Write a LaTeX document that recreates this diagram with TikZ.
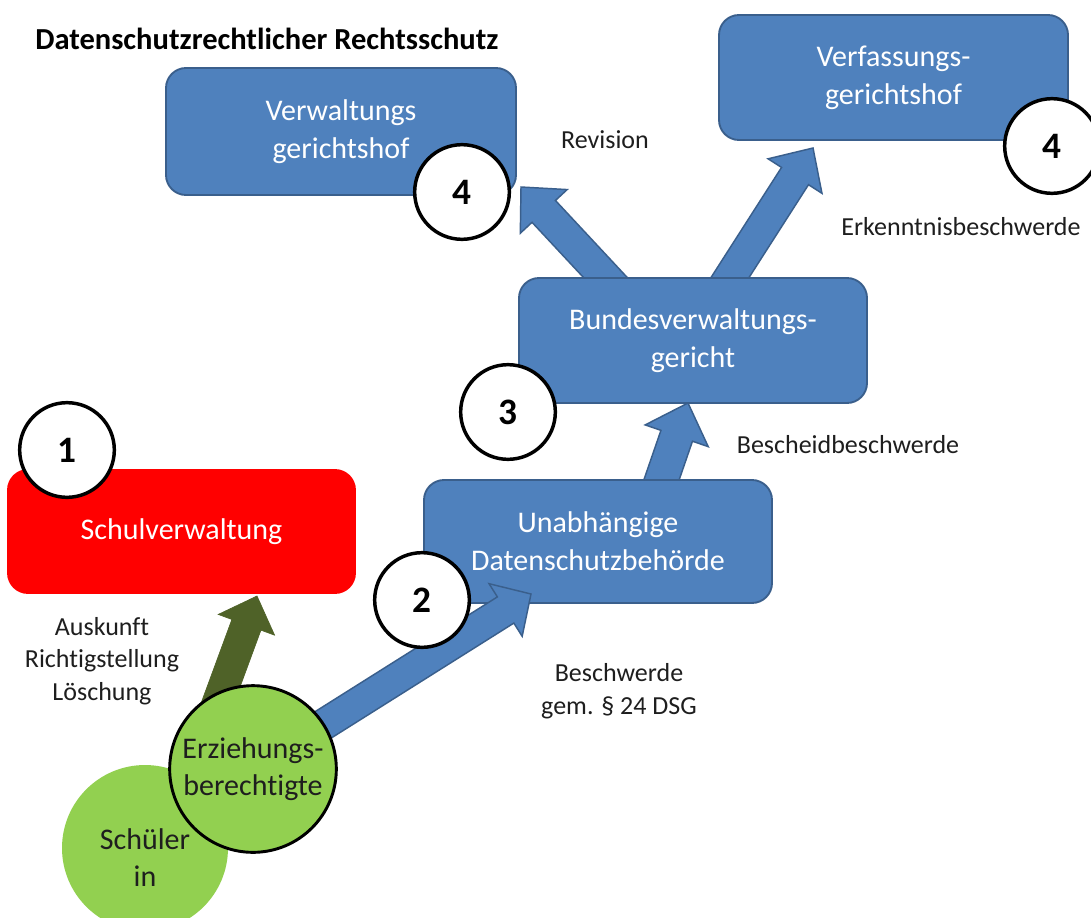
\documentclass[tikz,border=0pt]{standalone}
\usepackage{fontspec}
\setmainfont{Carlito}[Ligatures=NoCommon]
\usetikzlibrary{calc}
\definecolor{boxblue}{HTML}{4F81BD}
\definecolor{boxline}{HTML}{3A5F8C}
\definecolor{olivegr}{HTML}{4F6228}
\definecolor{lgreen}{HTML}{92D050}
\definecolor{labelgray}{HTML}{1E1E1E}
\definecolor{redbox}{HTML}{FF0000}
% #1 style, #2 tail, #3 tip, #4 half shaft, #5 half head, #6 head length
\newcommand\blockarrow[6]{%
  \coordinate (hb) at ($(#3)!#6!(#2)$);
  \draw[#1] ($(#2)!#4!90:(#3)$) -- ($(hb)!#4!-90:(#2)$) -- ($(hb)!#5!-90:(#2)$)
    -- (#3) -- ($(hb)!#5!90:(#2)$) -- ($(hb)!#4!90:(#2)$) -- ($(#2)!#4!-90:(#3)$) -- cycle;
}
\tikzset{
  bbox/.style={rectangle, rounded corners=15pt, fill=boxblue, draw=boxline, line width=1.4pt,
    text=white, font=\fontsize{22.5pt}{28.5pt}\selectfont, align=center, inner sep=0pt},
  numc/.style={circle, fill=white, draw=black, line width=2.6pt, minimum size=71pt, inner sep=0pt,
    font=\fontsize{28pt}{30pt}\selectfont\bfseries},
  lbl/.style={text=labelgray, font=\fontsize{19.5pt}{24.5pt}\selectfont, align=center, inner sep=0pt},
  ctext/.style={text=labelgray, font=\fontsize{22.5pt}{27.75pt}\selectfont, align=center, inner sep=0pt},
  barrow/.style={fill=boxblue, draw=boxline, line width=1.1pt, line join=miter},
  garrow/.style={fill=olivegr, draw=olivegr, line width=0.5pt, line join=miter},
}
\begin{document}
\begin{tikzpicture}[x=0.75pt,y=-0.75pt]
\useasboundingbox (0,0) rectangle (1091,917);
\fill[white] (0,0) rectangle (1091,917);
\clip (0,0) rectangle (1091,917);

% title
\node[anchor=base west, inner sep=0pt, text=black, font=\fontsize{22.9pt}{27pt}\selectfont\bfseries] (title) at (35,50) {Datenschutzrechtlicher Rechtsschutz};

% arrow end points
\coordinate (nwTail) at (617,290);
\coordinate (nwTip) at (521,187);
\coordinate (neTail) at (722,290);
\coordinate (neTip) at (813,148);
\coordinate (smTail) at (658,490);
\coordinate (smTip) at (688,403);

% upper arrows (under the boxes)
\blockarrow{barrow}{nwTail}{nwTip}{12pt}{24pt}{25pt}
\blockarrow{barrow}{neTail}{neTip}{12pt}{24pt}{25pt}
\blockarrow{barrow}{smTail}{smTip}{12.5pt}{25pt}{26pt}

% boxes
\node[bbox, minimum width=262.5pt, minimum height=95.25pt] (vgh) at (341,131.5) {Verwaltungs\\gerichtshof};
\node[bbox, minimum width=261.75pt, minimum height=93.75pt] (vfgh) at (893.5,77.5) {Verfassungs-\\gerichtshof};
\node[bbox, minimum width=261pt, minimum height=93.75pt] (bvwg) at (693,340.5) {Bundesverwaltungs-\\gericht};
\node[bbox, minimum width=261pt, minimum height=92.25pt] (udsb) at (598,541.5) {Unabhängige\\Datenschutzbehörde};
\node[bbox, fill=redbox, draw=redbox, minimum width=260.25pt, minimum height=92.25pt] (sv) at (181.5,531.5) {Schulverwaltung};

% green circles
\node[circle, fill=lgreen, minimum size=124.5pt, inner sep=0pt] (sch) at (145,848) {};
\node[ctext] (schtxt) at (145,858) {Schüler\\in};
\coordinate (gTail) at (204,740);
\coordinate (gTip) at (257,596);
\coordinate (lbTip) at (531,594);
\coordinate (ebc) at (253,769);
\blockarrow{garrow}{gTail}{gTip}{11.6pt}{22.5pt}{23pt}
\blockarrow{barrow}{ebc}{lbTip}{11.6pt}{23.3pt}{22.5pt}
\node[circle, fill=lgreen, draw=black, line width=2.2pt, minimum size=125pt, inner sep=0pt, ctext] (eb) at (ebc) {Erziehungs-\\berechtigte};

% number circles
\node[numc] (n1) at (67,450) {1};
\node[numc] (n2) at (422,600) {2};
\node[numc] (n3) at (508,412) {3};
\node[numc] (n4a) at (462,192) {4};
\node[numc] (n4b) at (1052,146) {4};

% labels
\node[lbl] (rev) at (605,140) {Revision};
\node[lbl] (erk) at (961,227) {Erkenntnisbeschwerde};
\node[lbl] (besch) at (848,445) {Bescheidbeschwerde};
\node[lbl] (ausk) at (102,661) {Auskunft\\Richtigstellung\\Löschung};
\node[lbl] (beschw) at (619,691.5) {Beschwerde\\gem. § 24 DSG};
\end{tikzpicture}
\end{document}
